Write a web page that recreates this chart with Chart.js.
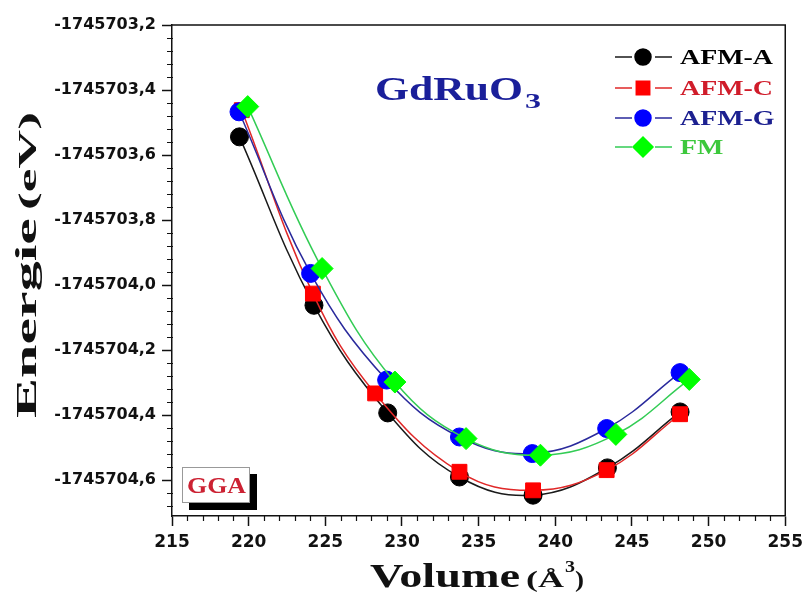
<!DOCTYPE html>
<html>
<head>
<meta charset="utf-8">
<script src="https://cdn.jsdelivr.net/npm/chart.js@4.4.1/dist/chart.umd.min.js"></script>
<style>
  html, body { margin: 0; padding: 0; background: #fff; }
  #wrap { width: 809px; height: 597px; }
</style>
</head>
<body>
<div id="wrap"><canvas id="eosChart"></canvas></div>
<script>
// volumes (Å3) and total energies (eV)
const volA = [219.40, 224.26, 229.07, 233.75, 238.55, 243.40, 248.14];
const energyA = [-1745703.544, -1745704.062, -1745704.393, -1745704.590, -1745704.646, -1745704.562, -1745704.390];

const volC = [219.55, 224.19, 228.25, 233.75, 238.55, 243.35, 248.14];
const energyC = [-1745703.462, -1745704.026, -1745704.333, -1745704.574, -1745704.631, -1745704.569, -1745704.397];

const volG = [219.37, 224.04, 229.00, 233.75, 238.50, 243.35, 248.14];
const energyG = [-1745703.467, -1745703.964, -1745704.292, -1745704.467, -1745704.518, -1745704.441, -1745704.269];

const volFM = [219.94, 224.79, 229.54, 234.18, 239.03, 243.95, 248.74];
const energyFM = [-1745703.451, -1745703.949, -1745704.298, -1745704.472, -1745704.523, -1745704.459, -1745704.290];

const seriesNames = ["AFM-A", "AFM-C", "AFM-G", "FM"];
const xTicks = [215, 220, 225, 230, 235, 240, 245, 250, 255];
const yTicks = [-1745704.6, -1745704.4, -1745704.2, -1745704.0, -1745703.8, -1745703.6, -1745703.4, -1745703.2];

const pts = (xs, ys) => xs.map((v, i) => ({ x: v, y: ys[i] }));

const styles = [
  { line: "#1a1a1a", fill: "#000000", shape: "circle", r: 9, text: "#000000", order: 4 },
  { line: "#e02828", fill: "#ff0000", shape: "rect", r: 10.5, text: "#d01c2a", order: 3 },
  { line: "#2a2a9c", fill: "#0000ff", shape: "circle", r: 9, text: "#1c2090", order: 2 },
  { line: "#33cc55", fill: "#00ff00", shape: "rectRot", r: 11, text: "#3cc83c", order: 1 },
];
const seriesData = [pts(volA, energyA), pts(volC, energyC), pts(volG, energyG), pts(volFM, energyFM)];

function stretchText(ctx, str, x, y, font, color, width) {
  ctx.font = font;
  const w = ctx.measureText(str).width;
  const sx = width ? width / w : 1;
  ctx.save();
  ctx.translate(x, y);
  ctx.scale(sx, 1);
  ctx.fillStyle = color;
  ctx.fillText(str, 0, 0);
  ctx.restore();
  return w * sx;
}

const decor = {
  id: "decor",
  afterDraw(chart) {
    const { ctx, chartArea: a, scales: { x, y } } = chart;
    ctx.save();
    ctx.strokeStyle = "#111";
    ctx.lineWidth = 1.5;
    ctx.beginPath();
    ctx.moveTo(a.left, a.top);
    ctx.lineTo(a.right, a.top);
    ctx.lineTo(a.right, a.bottom);
    ctx.stroke();

    // minor ticks
    ctx.lineWidth = 1.2;
    ctx.beginPath();
    for (let k = 0; k <= 40; k++) {
      if (k % 5 === 0) continue;
      const px = Math.round(x.getPixelForValue(215 + k)) + 0.5;
      ctx.moveTo(px, a.bottom);
      ctx.lineTo(px, a.bottom + 5);
    }
    for (let k = -2; k <= 35; k++) {
      if (k % 5 === 0) continue;
      const v = yTicks[0] + k * 0.04;
      if (v < y.min || v > y.max) continue;
      const py = Math.round(y.getPixelForValue(v)) + 0.5;
      ctx.moveTo(a.left - 5, py);
      ctx.lineTo(a.left + 1, py);
    }
    ctx.stroke();

    ctx.textBaseline = "alphabetic";
    ctx.textAlign = "left";

    // compound label
    stretchText(ctx, "GdRuO", 375, 100, "bold 33px 'Liberation Serif'", "#1a1f9a", 148);
    stretchText(ctx, "3", 525, 108, "bold 21px 'Liberation Serif'", "#1a1f9a", 16);

    // legend
    ctx.font = "bold 21px 'Liberation Serif'";
    const sx = 93 / ctx.measureText("AFM-A").width;
    const rows = [57, 88, 118, 147];
    seriesNames.forEach((name, i) => {
      const s = styles[i];
      const cy = rows[i];
      ctx.strokeStyle = s.line;
      ctx.lineWidth = 1.5;
      ctx.beginPath();
      ctx.moveTo(615, cy); ctx.lineTo(632, cy);
      ctx.moveTo(655, cy); ctx.lineTo(672, cy);
      ctx.stroke();
      ctx.fillStyle = s.fill;
      ctx.strokeStyle = s.fill;
      Chart.helpers.drawPoint(ctx, { pointStyle: s.shape, radius: s.r - 1, borderWidth: 1, rotation: 0 }, 643, cy);
      ctx.font = "bold 21px 'Liberation Serif'";
      ctx.save();
      ctx.translate(680, cy + 7);
      ctx.scale(sx, 1);
      ctx.fillStyle = s.text;
      ctx.fillText(name, 0, 0);
      ctx.restore();
    });

    // GGA box with drop shadow
    ctx.fillStyle = "#000";
    ctx.fillRect(189, 474, 68, 36);
    ctx.fillStyle = "#fff";
    ctx.fillRect(182, 467, 68, 36);
    ctx.strokeStyle = "#999";
    ctx.lineWidth = 1;
    ctx.strokeRect(182.5, 467.5, 67, 35);
    stretchText(ctx, "GGA", 187, 493, "bold 24px 'Liberation Serif'", "#cc2233", 59);

    // axis titles
    let cx = 370;
    cx += stretchText(ctx, "Volume", cx, 587, "bold 34px 'Liberation Serif'", "#111", 150);
    cx += 6;
    cx += stretchText(ctx, "(Å", cx, 587, "bold 24px 'Liberation Serif'", "#111", 38);
    stretchText(ctx, "3", cx + 1, 572, "bold 16px 'Liberation Serif'", "#111", 10);
    stretchText(ctx, ")", cx + 11, 587, "bold 24px 'Liberation Serif'", "#111", 9);

    ctx.save();
    ctx.translate(36, 418);
    ctx.rotate(-Math.PI / 2);
    const w1 = stretchText(ctx, "Energie", 0, 0, "bold 29px 'Liberation Serif'", "#111", 200);
    stretchText(ctx, "(eV)", w1 + 8, 0, "bold 25px 'Liberation Serif'", "#111", 98);
    ctx.restore();

    ctx.restore();
  }
};

new Chart(document.getElementById("eosChart"), {
  type: "line",
  data: {
    datasets: seriesNames.map((name, i) => ({
      label: name,
      data: seriesData[i],
      borderColor: styles[i].line,
      borderWidth: 1.5,
      backgroundColor: styles[i].fill,
      pointBackgroundColor: styles[i].fill,
      pointBorderColor: styles[i].fill,
      pointBorderWidth: 1,
      pointStyle: styles[i].shape,
      pointRadius: styles[i].r,
      tension: 0.4,
      fill: false,
      order: styles[i].order,
    })),
  },
  options: {
    responsive: true,
    maintainAspectRatio: false,
    animation: false,
    layout: { padding: { left: 0, right: 19, top: 25, bottom: 0 } },
    plugins: {
      legend: { display: false },
      tooltip: { enabled: false },
    },
    scales: {
      x: {
        type: "linear",
        min: 215,
        max: 255,
        afterBuildTicks: (s) => { s.ticks = xTicks.map((v) => ({ value: v })); },
        afterFit: (s) => { s.height = 81; },
        grid: { drawOnChartArea: false, tickLength: 10, tickColor: "#111", tickWidth: 1.5 },
        border: { color: "#111", width: 1.5 },
        ticks: {
          color: "#111",
          padding: 6,
          maxRotation: 0,
          font: { family: "'DejaVu Sans'", weight: "bold", size: 17 },
        },
      },
      y: {
        type: "linear",
        min: -1745704.71,
        max: -1745703.2,
        afterBuildTicks: (s) => { s.ticks = yTicks.map((v) => ({ value: v })); },
        afterFit: (s) => { s.width = 172; },
        grid: { drawOnChartArea: false, tickLength: 10, tickColor: "#111", tickWidth: 1.5 },
        border: { color: "#111", width: 1.5 },
        ticks: {
          color: "#111",
          padding: 6,
          font: { family: "'DejaVu Sans'", weight: "bold", size: 16 },
          callback: (v) => Number(v).toFixed(1).replace(".", ","),
        },
      },
    },
  },
  plugins: [decor],
});
</script>
</body>
</html>
